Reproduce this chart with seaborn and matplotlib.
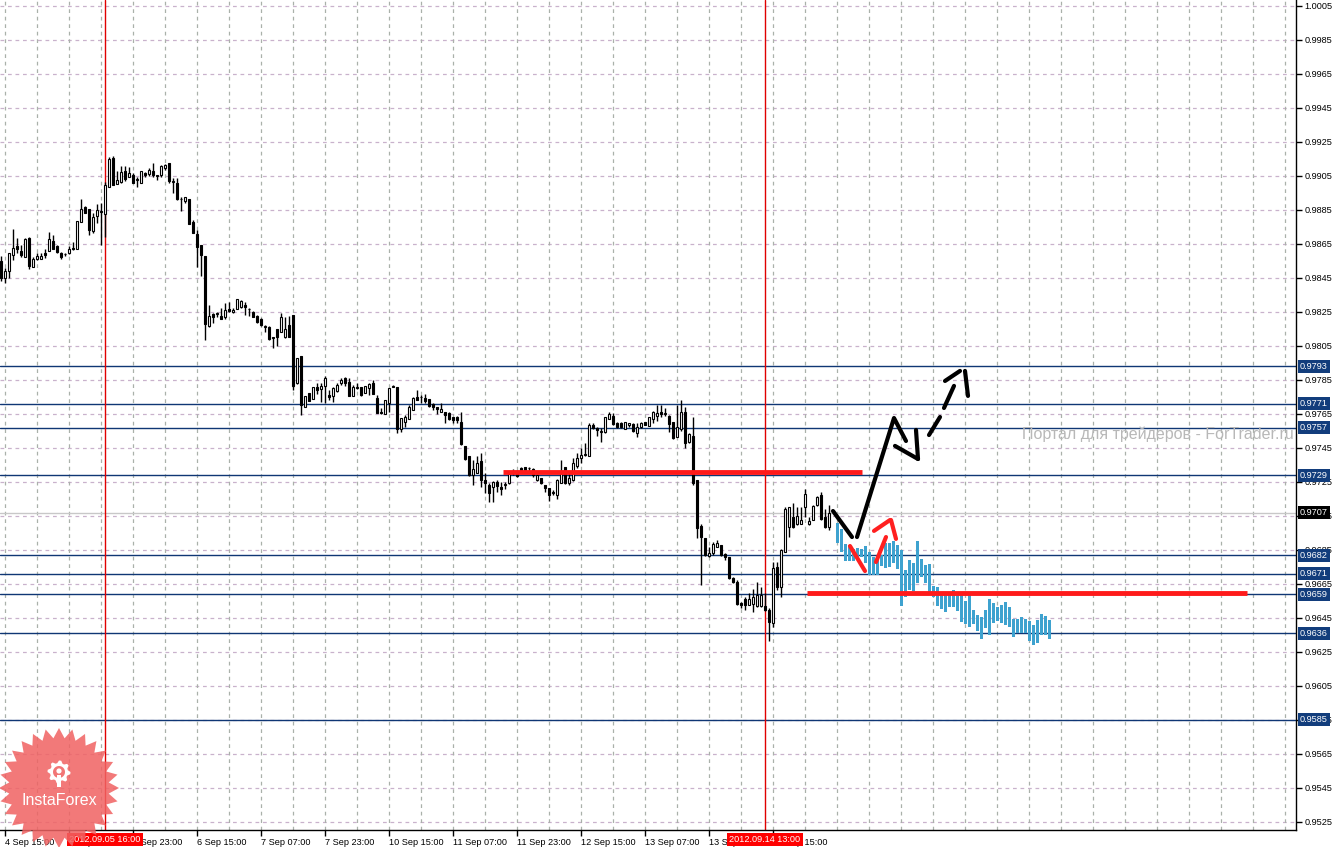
import numpy as np
import pandas as pd
import matplotlib
matplotlib.use('Agg')
import matplotlib.pyplot as plt
import seaborn as sns
from matplotlib.patches import Polygon

# ---------------- data ----------------
first_bar = -1
opens = [
 0.98550, 0.98448, 0.98493, 0.98587, 0.98638, 0.98609, 0.98576, 0.98685, 0.98517, 0.98564,
 0.98564, 0.98595, 0.98607, 0.98670, 0.98638, 0.98595, 0.98589, 0.98595, 0.98628, 0.98623,
 0.98777, 0.98866, 0.98854, 0.98725, 0.98815, 0.98842, 0.98827, 0.98983, 0.99156, 0.99003,
 0.99015, 0.99078, 0.99046, 0.99056, 0.99027, 0.99011, 0.99070, 0.99062, 0.99078, 0.99050,
 0.99054, 0.99095, 0.99125, 0.99015, 0.99007, 0.98913, 0.98905, 0.98915, 0.98781, 0.98709,
 0.98646, 0.98579, 0.98168, 0.98236,
 0.98238, 0.98226, 0.98218, 0.98265, 0.98250, 0.98265, 0.98277, 0.98291, 0.98265, 0.98252,
 0.98226, 0.98206, 0.98163, 0.98163, 0.98099, 0.98148, 0.98134, 0.98104, 0.98171, 0.98232,
 0.97830, 0.97991, 0.97689, 0.97771, 0.97736, 0.97810, 0.97795, 0.97814, 0.97761, 0.97755,
 0.97787, 0.97830, 0.97859, 0.97840, 0.97755, 0.97804, 0.97806, 0.97775, 0.97801, 0.97830,
 0.97742, 0.97663, 0.97649, 0.97716, 0.97806, 0.97810, 0.97559, 0.97604, 0.97618, 0.97673,
 0.97752,
 0.97748, 0.97742, 0.97736, 0.97709, 0.97689, 0.97664, 0.97662, 0.97658, 0.97630, 0.97630,
 0.97605, 0.97462, 0.97403, 0.97291, 0.97305, 0.97375, 0.97262, 0.97232, 0.97219, 0.97252,
 0.97219, 0.97232, 0.97242, 0.97317, 0.97305, 0.97330, 0.97336, 0.97330, 0.97325, 0.97262,
 0.97275, 0.97230, 0.97213, 0.97187, 0.97174, 0.97246, 0.97336, 0.97242, 0.97262, 0.97344,
 0.97389, 0.97409, 0.97403, 0.97585, 0.97566, 0.97546, 0.97546, 0.97619, 0.97638, 0.97599,
 0.97595,
 0.97560, 0.97585, 0.97591, 0.97536, 0.97571, 0.97603, 0.97579, 0.97618, 0.97638, 0.97664,
 0.97650, 0.97638, 0.97605, 0.97516, 0.97560, 0.97664, 0.97487, 0.97520, 0.97262, 0.96991,
 0.96918, 0.96814, 0.96830, 0.96869, 0.96879, 0.96826, 0.96807, 0.96683, 0.96664, 0.96540,
 0.96560, 0.96526, 0.96532, 0.96520, 0.96520, 0.96520, 0.96497, 0.96418, 0.96748, 0.96634,
 0.96840, 0.96987, 0.97046, 0.97003, 0.97003, 0.97101, 0.97003, 0.97026, 0.97115, 0.97173,
 0.97046, 0.96985]
highs = [
 0.98579, 0.98507, 0.98595, 0.98738, 0.98683, 0.98644, 0.98683, 0.98689, 0.98576, 0.98595,
 0.98599, 0.98623, 0.98723, 0.98703, 0.98644, 0.98605, 0.98595, 0.98638, 0.98664, 0.98785,
 0.98915, 0.98874, 0.98854, 0.98830, 0.98883, 0.98889, 0.99015, 0.99160, 0.99168, 0.99080,
 0.99109, 0.99109, 0.99105, 0.99070, 0.99042, 0.99078, 0.99074, 0.99095, 0.99125, 0.99056,
 0.99115, 0.99119, 0.99125, 0.99036, 0.99036, 0.98928, 0.98928, 0.98915, 0.98791, 0.98732,
 0.98646, 0.98579, 0.98291, 0.98242,
 0.98251, 0.98271, 0.98301, 0.98310, 0.98271, 0.98324, 0.98320, 0.98310, 0.98271, 0.98257,
 0.98232, 0.98212, 0.98173, 0.98167, 0.98104, 0.98148, 0.98246, 0.98222, 0.98226, 0.98232,
 0.97977, 0.97991, 0.97755, 0.97775, 0.97806, 0.97830, 0.97830, 0.97873, 0.97791, 0.97806,
 0.97830, 0.97859, 0.97865, 0.97859, 0.97820, 0.97830, 0.97806, 0.97814, 0.97830, 0.97849,
 0.97761, 0.97683, 0.97732, 0.97801, 0.97820, 0.97810, 0.97624, 0.97644, 0.97703, 0.97752,
 0.97791,
 0.97762, 0.97768, 0.97736, 0.97713, 0.97693, 0.97717, 0.97664, 0.97662, 0.97634, 0.97638,
 0.97664, 0.97462, 0.97403, 0.97379, 0.97403, 0.97423, 0.97301, 0.97246, 0.97258, 0.97262,
 0.97252, 0.97252, 0.97305, 0.97325, 0.97321, 0.97336, 0.97336, 0.97336, 0.97330, 0.97297,
 0.97275, 0.97232, 0.97217, 0.97203, 0.97266, 0.97379, 0.97336, 0.97301, 0.97389, 0.97423,
 0.97448, 0.97481, 0.97599, 0.97595, 0.97575, 0.97566, 0.97634, 0.97664, 0.97654, 0.97605,
 0.97605,
 0.97605, 0.97599, 0.97599, 0.97595, 0.97603, 0.97603, 0.97634, 0.97669, 0.97703, 0.97703,
 0.97683, 0.97644, 0.97605, 0.97703, 0.97732, 0.97693, 0.97536, 0.97630, 0.97262, 0.97003,
 0.96918, 0.96869, 0.96899, 0.96909, 0.96879, 0.96830, 0.96811, 0.96689, 0.96673, 0.96546,
 0.96575, 0.96595, 0.96618, 0.96664, 0.96634, 0.96595, 0.96507, 0.96781, 0.96781, 0.96854,
 0.97101, 0.97105, 0.97124, 0.97101, 0.97105, 0.97207, 0.97042, 0.97115, 0.97167, 0.97193,
 0.97089, 0.97115]
lows = [
 0.98432, 0.98419, 0.98448, 0.98556, 0.98595, 0.98576, 0.98576, 0.98503, 0.98517, 0.98556,
 0.98564, 0.98570, 0.98607, 0.98619, 0.98595, 0.98564, 0.98579, 0.98591, 0.98615, 0.98623,
 0.98777, 0.98830, 0.98703, 0.98713, 0.98776, 0.98644, 0.98693, 0.98983, 0.98995, 0.99003,
 0.99007, 0.99023, 0.99042, 0.99007, 0.98987, 0.99007, 0.99046, 0.99050, 0.99042, 0.99027,
 0.99046, 0.99085, 0.99007, 0.98948, 0.98909, 0.98846, 0.98893, 0.98768, 0.98713, 0.98517,
 0.98462, 0.98085, 0.98164, 0.98183,
 0.98218, 0.98206, 0.98206, 0.98252, 0.98246, 0.98265, 0.98271, 0.98232, 0.98226, 0.98218,
 0.98183, 0.98167, 0.98134, 0.98085, 0.98036, 0.98050, 0.98134, 0.98095, 0.98104, 0.97791,
 0.97826, 0.97644, 0.97689, 0.97728, 0.97736, 0.97767, 0.97722, 0.97716, 0.97732, 0.97722,
 0.97781, 0.97820, 0.97814, 0.97755, 0.97755, 0.97799, 0.97755, 0.97771, 0.97761, 0.97767,
 0.97653, 0.97650, 0.97649, 0.97663, 0.97806, 0.97536, 0.97546, 0.97575, 0.97618, 0.97673,
 0.97732,
 0.97713, 0.97713, 0.97689, 0.97674, 0.97650, 0.97664, 0.97599, 0.97615, 0.97595, 0.97599,
 0.97468, 0.97379, 0.97285, 0.97232, 0.97305, 0.97223, 0.97183, 0.97134, 0.97134, 0.97193,
 0.97174, 0.97207, 0.97238, 0.97291, 0.97281, 0.97301, 0.97311, 0.97301, 0.97281, 0.97258,
 0.97238, 0.97193, 0.97140, 0.97174, 0.97148, 0.97242, 0.97238, 0.97232, 0.97258, 0.97330,
 0.97364, 0.97403, 0.97403, 0.97560, 0.97521, 0.97487, 0.97540, 0.97619, 0.97585, 0.97566,
 0.97566,
 0.97560, 0.97571, 0.97546, 0.97516, 0.97566, 0.97587, 0.97579, 0.97595, 0.97611, 0.97634,
 0.97638, 0.97546, 0.97501, 0.97513, 0.97552, 0.97448, 0.97477, 0.97232, 0.96918, 0.96644,
 0.96814, 0.96811, 0.96820, 0.96866, 0.96814, 0.96791, 0.96677, 0.96658, 0.96526, 0.96507,
 0.96497, 0.96526, 0.96487, 0.96516, 0.96516, 0.96493, 0.96316, 0.96399, 0.96615, 0.96571,
 0.96840, 0.96928, 0.96977, 0.96997, 0.97003, 0.97046, 0.96997, 0.97026, 0.97109, 0.97026,
 0.96977, 0.96967]
closes = [
 0.98452, 0.98491, 0.98595, 0.98625, 0.98619, 0.98587, 0.98679, 0.98521, 0.98560, 0.98579,
 0.98579, 0.98585, 0.98678, 0.98623, 0.98605, 0.98576, 0.98589, 0.98621, 0.98619, 0.98785,
 0.98854, 0.98834, 0.98732, 0.98811, 0.98848, 0.98840, 0.98995, 0.99148, 0.98995, 0.99027,
 0.99074, 0.99034, 0.99066, 0.99011, 0.99027, 0.99078, 0.99056, 0.99085, 0.99054, 0.99050,
 0.99109, 0.99115, 0.99023, 0.99015, 0.98913, 0.98913, 0.98925, 0.98768, 0.98717, 0.98634,
 0.98587, 0.98177, 0.98228, 0.98223,
 0.98238, 0.98206, 0.98261, 0.98257, 0.98261, 0.98324, 0.98316, 0.98277, 0.98265, 0.98218,
 0.98189, 0.98173, 0.98163, 0.98089, 0.98099, 0.98104, 0.98222, 0.98148, 0.98104, 0.97814,
 0.97977, 0.97703, 0.97755, 0.97728, 0.97806, 0.97791, 0.97814, 0.97859, 0.97752, 0.97801,
 0.97820, 0.97850, 0.97830, 0.97755, 0.97806, 0.97804, 0.97761, 0.97814, 0.97824, 0.97767,
 0.97657, 0.97653, 0.97732, 0.97801, 0.97816, 0.97559, 0.97624, 0.97630, 0.97693, 0.97742,
 0.97732,
 0.97748, 0.97728, 0.97697, 0.97689, 0.97677, 0.97679, 0.97642, 0.97619, 0.97615, 0.97615,
 0.97474, 0.97383, 0.97291, 0.97325, 0.97364, 0.97262, 0.97246, 0.97187, 0.97252, 0.97226,
 0.97207, 0.97232, 0.97297, 0.97301, 0.97287, 0.97311, 0.97321, 0.97330, 0.97291, 0.97291,
 0.97242, 0.97213, 0.97174, 0.97187, 0.97262, 0.97311, 0.97246, 0.97272, 0.97360, 0.97389,
 0.97409, 0.97409, 0.97585, 0.97566, 0.97556, 0.97546, 0.97634, 0.97650, 0.97591, 0.97575,
 0.97571,
 0.97603, 0.97595, 0.97552, 0.97575, 0.97595, 0.97587, 0.97630, 0.97664, 0.97658, 0.97650,
 0.97650, 0.97591, 0.97507, 0.97575, 0.97664, 0.97477, 0.97532, 0.97246, 0.96977, 0.96928,
 0.96820, 0.96830, 0.96885, 0.96889, 0.96820, 0.96811, 0.96683, 0.96664, 0.96530, 0.96526,
 0.96526, 0.96560, 0.96571, 0.96585, 0.96585, 0.96497, 0.96428, 0.96742, 0.96634, 0.96850,
 0.97089, 0.97101, 0.96983, 0.97050, 0.97026, 0.97179, 0.97022, 0.97109, 0.97160, 0.97030,
 0.96983, 0.97070]

# forecast (cyan) columns
fc_first_bar = 208
fc_high = [0.97009, 0.96973, 0.96885, 0.96879, 0.96856, 0.96862, 0.96856, 0.96873, 0.96838, 0.96809,
           0.96809, 0.96820, 0.96891, 0.96891, 0.96903, 0.96879, 0.96850, 0.96732, 0.96791, 0.96773,
           0.96903, 0.96797, 0.96762, 0.96768, 0.96638, 0.96632, 0.96591, 0.96585, 0.96591, 0.96615,
           0.96585, 0.96585, 0.96550, 0.96585, 0.96497, 0.96468, 0.96456, 0.96497, 0.96562, 0.96538,
           0.96515, 0.96526, 0.96544, 0.96515, 0.96444, 0.96444, 0.96456, 0.96444, 0.96432, 0.96409,
           0.96438, 0.96474, 0.96462, 0.96438]
fc_low = [0.96891, 0.96838, 0.96785, 0.96785, 0.96785, 0.96797, 0.96809, 0.96773, 0.96703, 0.96703,
          0.96703, 0.96756, 0.96744, 0.96750, 0.96773, 0.96738, 0.96521, 0.96573, 0.96615, 0.96609,
          0.96656, 0.96691, 0.96656, 0.96597, 0.96573, 0.96521, 0.96503, 0.96485, 0.96515, 0.96515,
          0.96491, 0.96426, 0.96415, 0.96397, 0.96415, 0.96373, 0.96326, 0.96391, 0.96350, 0.96421,
          0.96432, 0.96421, 0.96409, 0.96397, 0.96338, 0.96362, 0.96362, 0.96362, 0.96315, 0.96291,
          0.96303, 0.96350, 0.96350, 0.96326]

levels = [0.9793, 0.9771, 0.9757, 0.9729, 0.9682, 0.9671, 0.9659, 0.9636, 0.9585]
bid_price = 0.9707
red_levels = [(124.5, 214.25, 0.97309), (200.5, 310.5, 0.96597)]
black_solid = [[(207, 0.97079), (211.75, 0.96926)],
               [(213, 0.96926), (222.25, 0.97626), (225.25, 0.97491)],
               [(222.5, 0.97462), (228.25, 0.97385)],
               [(227.75, 0.97556), (228.25, 0.97385)]]
black_dashed = [[(231, 0.97526), (233.75, 0.97632)],
                [(234.75, 0.97685), (237.25, 0.97815)],
                [(235, 0.97844), (238.75, 0.97903)],
                [(240, 0.97903), (240.75, 0.97756)]]
red_strokes = [[(211.25, 0.96873), (215, 0.96726)],
               [(217.75, 0.96779), (220.25, 0.96926)],
               [(217.25, 0.96962), (221.25, 0.97026)],
               [(221.5, 0.97026), (222.75, 0.96915)]]

xtick_bars = [0, 16, 32, 48, 64, 80, 96, 112, 128, 144, 160, 176, 192]
xtick_labels = ['4 Sep 15:00', '5 Sep 07:00', '5 Sep 23:00', '6 Sep 15:00', '7 Sep 07:00',
                '7 Sep 23:00', '10 Sep 15:00', '11 Sep 07:00', '11 Sep 23:00', '12 Sep 15:00',
                '13 Sep 07:00', '13 Sep 23:00', '14 Sep 15:00']
marker_bars = [25, 190]
marker_labels = ['2012.09.05 16:00', '2012.09.14 13:00']
ytick_top, ytick_step, ytick_count = 1.0005, 0.0020, 25
watermark = 'Портал для трейдеров - ForTrader.ru'

# ---------------- figure ----------------
sns.set_theme(style='white')
plt.rcParams['font.family'] = ['Liberation Sans', 'DejaVu Sans']

W, H = 1338, 847
fig = plt.figure(figsize=(W / 100, H / 100), dpi=100)
fig.patch.set_facecolor('white')
ax = fig.add_axes([0, 17 / H, 1296 / W, 830 / H])
ax.set_facecolor('white')
ax.set_xlim(-1.25, 322.75)
ax.set_ylim(0.952026, 1.00085)

df = pd.DataFrame({'open': opens, 'high': highs, 'low': lows, 'close': closes})
df['bar'] = np.arange(first_bar, first_bar + len(df))
up = df['close'] >= df['open']

# grid
yticks = [round(ytick_top - k * ytick_step, 4) for k in range(ytick_count)]
for yv in yticks:
    ax.axhline(yv, color='#c9b2cc', lw=0.9, dashes=(3, 3), zorder=1)
for xv in range(0, 321, 8):
    ax.axvline(xv, color='#aab1aa', lw=0.9, dashes=(3, 3), zorder=1)

# bid line and levels
ax.axhline(bid_price, color='#c8c8c8', lw=1, zorder=1.5)
for lv in levels:
    ax.axhline(lv, color='#0f3674', lw=1, zorder=1.6)
for b in marker_bars:
    ax.axvline(b, color='#e00000', lw=1, zorder=1.7)

# candles
ax.vlines(df['bar'], df['low'], df['high'], color='black', lw=1, zorder=3)
body_bottom = np.minimum(df['open'], df['close'])
body_h = np.maximum(np.abs(df['close'] - df['open']), 0.00004)
ax.bar(df['bar'], body_h, bottom=body_bottom, width=0.62,
       color=np.where(up, 'white', 'black'), edgecolor='black', linewidth=0.8, zorder=4)

# forecast columns
fc = pd.DataFrame({'high': fc_high, 'low': fc_low})
fc['bar'] = np.arange(fc_first_bar, fc_first_bar + len(fc))
ax.bar(fc['bar'], fc['high'] - fc['low'], bottom=fc['low'], width=0.75,
       color='#3ea2cf', linewidth=0, zorder=4)

# red horizontal lines and hand-drawn strokes
for x0, x1, yv in red_levels:
    ax.plot([x0, x1], [yv, yv], color='#ff1a1a', lw=3.5, zorder=5, solid_capstyle='butt')
for seg in black_solid + black_dashed:
    xs, ys = zip(*seg)
    ax.plot(xs, ys, color='black', lw=3, zorder=6, solid_capstyle='round')
for seg in red_strokes:
    xs, ys = zip(*seg)
    ax.plot(xs, ys, color='#ff2020', lw=3, zorder=6, solid_capstyle='round')

# watermark
ax.text(254.25, 0.97532, watermark, color='#b8b8b8', fontsize=11.5, ha='left', va='center',
        zorder=2, clip_on=False)

# axes styling
for s in ['left', 'top']:
    ax.spines[s].set_visible(False)
for s in ['right', 'bottom']:
    ax.spines[s].set_color('black')
    ax.spines[s].set_linewidth(1)
ax.yaxis.tick_right()
ax.set_yticks(yticks)
ax.set_yticklabels([f'{v:.4f}' for v in yticks])
ax.set_xticks(xtick_bars)
ax.set_xticklabels(xtick_labels)
ax.tick_params(axis='y', direction='out', length=4, width=1, pad=2, labelsize=6.6,
               colors='black', right=True, left=False)
ax.tick_params(axis='x', direction='out', length=4, width=1, pad=2, labelsize=6.6,
               colors='black', bottom=True)
for lab in ax.get_xticklabels():
    lab.set_horizontalalignment('left')
ax.grid(False)

# level label boxes
ytr = ax.get_yaxis_transform()
for lv in levels:
    ax.text(1.0029, lv, f'{lv:.4f}', transform=ytr, ha='left', va='center', fontsize=6.6,
            color='white', zorder=20, clip_on=False,
            bbox=dict(boxstyle='square,pad=0.22', fc='#123d7c', ec='none'))
ax.text(1.0029, bid_price, f'{bid_price:.4f}', transform=ytr, ha='left', va='center', fontsize=6.6,
        color='white', zorder=20, clip_on=False,
        bbox=dict(boxstyle='square,pad=0.22', fc='black', ec='none'))

# date markers
xtr = ax.get_xaxis_transform()
for b, lab in zip(marker_bars, marker_labels):
    ax.text(b, -0.0115, lab, transform=xtr, ha='center', va='center', fontsize=6.6,
            color='white', zorder=20, clip_on=False,
            bbox=dict(boxstyle='square,pad=0.25', fc='#ff0000', ec='none'))

# InstaForex badge (figure pixel coordinates)
def px(x, y):
    return (x / W, 1 - y / H)

cx, cy = 59, 788
n = 28
pts = []
for k in range(2 * n):
    r = 60 if k % 2 == 0 else 50
    a = np.pi * k / n
    pts.append(px(cx + r * np.cos(a), cy + r * np.sin(a)))
fig.add_artist(Polygon(pts, closed=True, transform=fig.transFigure, fc='#f06262',
                       ec='none', alpha=0.85, zorder=30))
gx, gy = 59, 772
gpts = []
for k in range(32):
    r = 11.5 if (k // 2) % 2 == 0 else 9
    a = 2 * np.pi * k / 32
    gpts.append(px(gx + r * np.cos(a), gy + r * np.sin(a)))
fig.add_artist(Polygon(gpts, closed=True, transform=fig.transFigure, fc='white', ec='none', zorder=31))
hole = []
for k in range(40):
    a = 2 * np.pi * k / 40
    hole.append(px(gx + 6 * np.cos(a), gy + 6 * np.sin(a)))
fig.add_artist(Polygon(hole, closed=True, transform=fig.transFigure, fc='#f27676', ec='none', zorder=32))
dot = []
for k in range(20):
    a = 2 * np.pi * k / 20
    dot.append(px(gx + 2.6 * np.cos(a), gy - 1 + 2.6 * np.sin(a)))
fig.add_artist(Polygon(dot, closed=True, transform=fig.transFigure, fc='white', ec='none', zorder=33))
stem = [px(gx - 2.4, gy + 3), px(gx + 2.4, gy + 3), px(gx + 2.4, gy + 15), px(gx - 2.4, gy + 15)]
fig.add_artist(Polygon(stem, closed=True, transform=fig.transFigure, fc='white', ec='none', zorder=33))
fig.text(px(59, 800)[0], px(59, 800)[1], 'InstaForex', color='white', fontsize=11.5,
         ha='center', va='center', zorder=34)

fig.savefig('out.png', dpi=100, facecolor='white')
